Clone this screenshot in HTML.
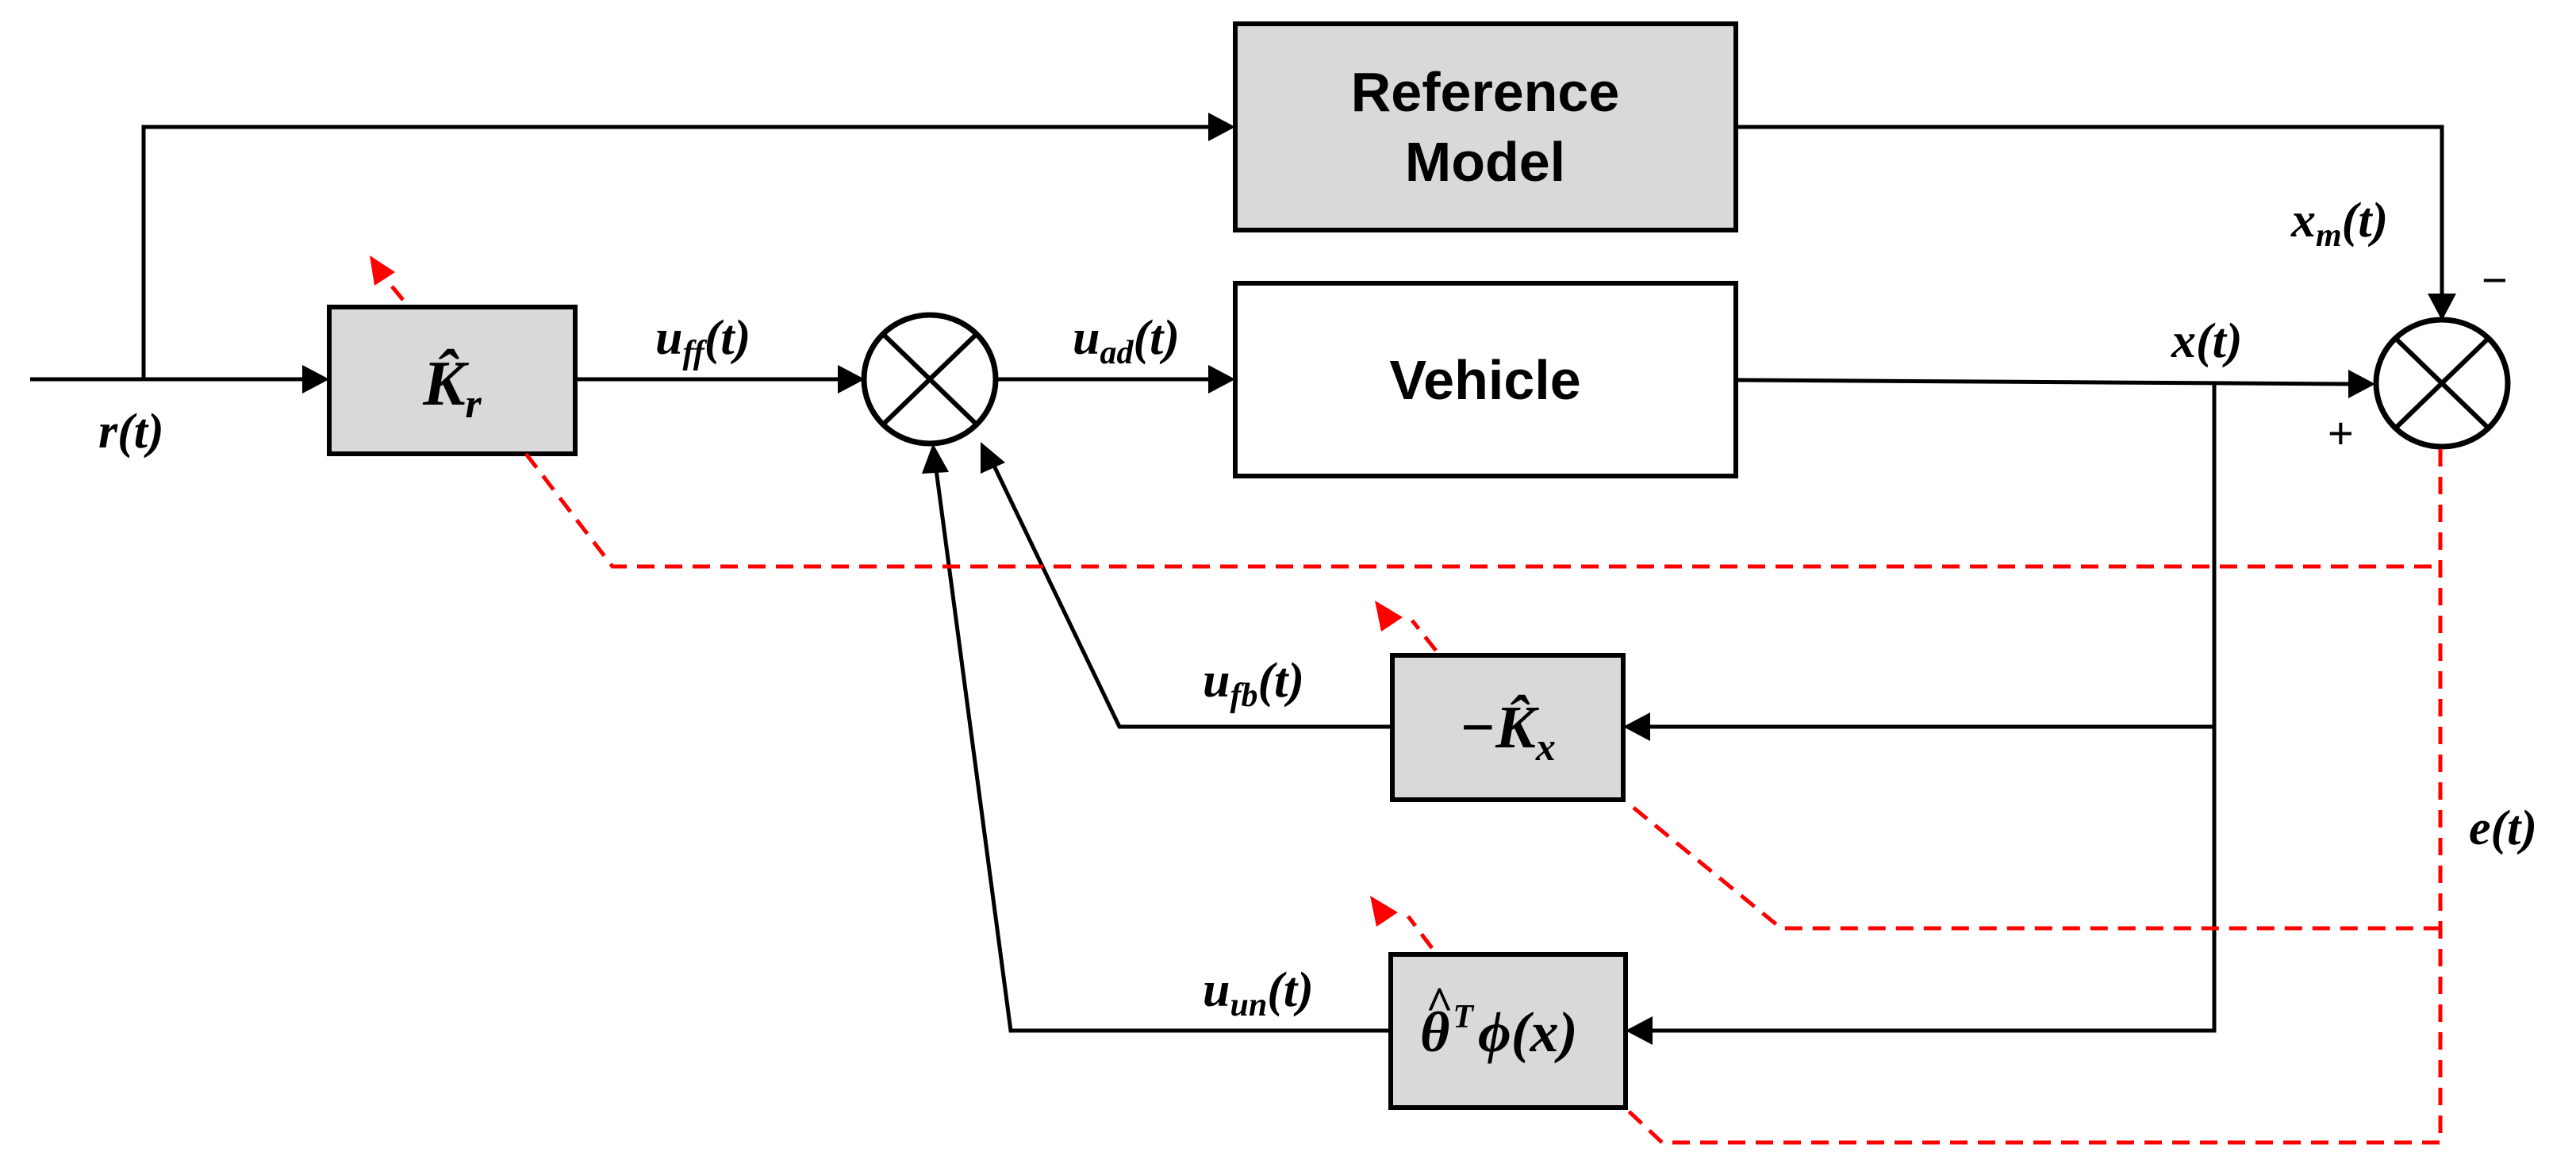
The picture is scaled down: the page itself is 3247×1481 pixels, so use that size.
<!DOCTYPE html>
<html><head><meta charset="utf-8"><style>
html,body{margin:0;padding:0;background:#fff;}
svg{display:block;}
.m{font-family:"Liberation Serif",serif;font-style:italic;font-weight:bold;}
.s{font-family:"Liberation Sans",sans-serif;font-weight:bold;}
</style></head><body>
<svg width="3247" height="1481" viewBox="0 0 3247 1481" xmlns="http://www.w3.org/2000/svg">
<g fill="none" stroke="#000" stroke-width="5">
<line x1="38" y1="478" x2="390" y2="478"/>
<polyline points="181,478 181,160 1530,160"/>
<line x1="725" y1="478" x2="1060" y2="478"/>
<line x1="1256" y1="478" x2="1530" y2="478"/>
<polyline points="2188,160 3078,160 3078,372"/>
<polyline points="2188,479 2965,484"/>
<polyline points="2791,482 2791,1299 2076,1299"/>
<line x1="2791" y1="916" x2="2076" y2="916"/>
<polyline points="1755,916 1411,916 1252,585"/>
<polyline points="1753,1299 1274,1299 1180,592"/>
</g>
<g fill="#000">
<polygon points="415,478 381,460 381,496"/>
<polygon points="1090,478 1056,460 1056,496"/>
<polygon points="1557,478 1523,460 1523,496"/>
<polygon points="1557,160 1523,142 1523,178"/>
<polygon points="2994,484 2960,466 2960,502"/>
<polygon points="3078,404 3060,370 3096,370"/>
<polygon points="2046,916 2080,898 2080,934"/>
<polygon points="2049,1299 2083,1281 2083,1317"/>
<polygon points="1176,559 1162,597 1196,595"/>
<polygon points="1236,557 1236,597 1267,583"/>
</g>
<g stroke="#000" stroke-width="6">
<rect x="1557" y="30" width="631" height="260" fill="#d9d9d9"/>
<rect x="1557" y="357" width="631" height="243" fill="#fff"/>
<rect x="415" y="387" width="310" height="185" fill="#d9d9d9"/>
<rect x="1755" y="826" width="291" height="182" fill="#d9d9d9"/>
<rect x="1753" y="1203" width="296" height="193" fill="#d9d9d9"/>
</g>
<g stroke="#000" fill="#fff" stroke-width="7">
<ellipse cx="1172" cy="478" rx="83" ry="81"/>
<ellipse cx="3078" cy="483" rx="83" ry="80"/>
</g>
<g stroke="#000" stroke-width="6">
<line x1="1113" y1="421" x2="1231" y2="535"/><line x1="1231" y1="421" x2="1113" y2="535"/>
<line x1="3019" y1="426" x2="3137" y2="540"/><line x1="3137" y1="426" x2="3019" y2="540"/>
</g>
<g fill="none" stroke="#f00" stroke-width="5" stroke-dasharray="22,13">
<polyline points="663,572 772,714 3076,714"/>
<polyline points="3076,566 3076,1440 2095,1440 2048,1396"/>
<polyline points="2059,1018 2245,1170 3076,1170"/>
<line x1="508" y1="378" x2="480" y2="344"/>
<line x1="1810" y1="820" x2="1780" y2="782"/>
<line x1="1805" y1="1195" x2="1775" y2="1155"/>
</g>
<g fill="#f00">
<polygon points="466,322 472,360 498,343"/>
<polygon points="1733,757 1741,796 1768,778"/>
<polygon points="1727,1129 1735,1168 1762,1150"/>
</g>
<g class="s" font-size="70" text-anchor="middle" fill="#000">
<text x="1872" y="140">Reference</text>
<text x="1872" y="228">Model</text>
<text x="1872" y="503">Vehicle</text>
</g>
<g class="m" fill="#000" font-size="62">
<text x="124" y="564">r(t)</text>
<text x="826" y="446">u<tspan font-size="42" dy="12">ff</tspan><tspan dy="-12">(t)</tspan></text>
<text x="1352" y="446">u<tspan font-size="42" dy="12">ad</tspan><tspan dy="-12">(t)</tspan></text>
<text x="2888" y="298">x<tspan font-size="42" dy="12">m</tspan><tspan dy="-12">(t)</tspan></text>
<text x="2737" y="450">x(t)</text>
<text x="1516" y="878">u<tspan font-size="42" dy="12">fb</tspan><tspan dy="-12">(t)</tspan></text>
<text x="1516" y="1268">u<tspan font-size="42" dy="12">un</tspan><tspan dy="-12">(t)</tspan></text>
<text x="3112" y="1064">e(t)</text>
<text x="570" y="510" font-size="80" text-anchor="middle">K̂<tspan font-size="52" dy="16">r</tspan></text>
<text x="1900" y="942" font-size="76" text-anchor="middle">−K̂<tspan font-size="50" dy="16">x</tspan></text>
<text x="1790" y="1325" font-size="72">θ<tspan font-size="42" dy="-30" dx="4">T</tspan><tspan dy="30" dx="6">ϕ(x)</tspan></text>
<text x="1797" y="1285" font-size="60" font-style="normal">^</text>
</g>
<g font-family="Liberation Sans,sans-serif" font-size="56" fill="#000">
<text x="3128" y="372">−</text>
<text x="2934" y="565">+</text>
</g>
</svg>
</body></html>
